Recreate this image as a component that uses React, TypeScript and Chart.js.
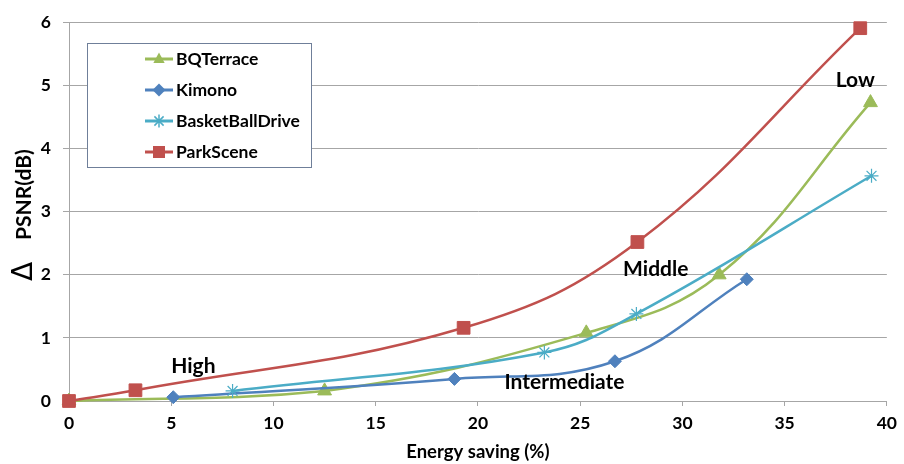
import React, { useEffect, useRef } from 'react';
import { Chart, registerables } from 'chart.js';

Chart.register(...registerables);

// ---- data ----
const seriesNames = ['BQTerrace', 'Kimono', 'BasketBallDrive', 'ParkScene'];
const seriesColors = ['#9BBB59', '#4F81BD', '#4BACC6', '#C0504D'];
const seriesStyles = ['triangle', 'rectRot', 'star', 'rect'];

const bqX = [0, 12.5, 25.3, 31.8, 39.2];
const bqY = [0, 0.16, 1.08, 2.0, 4.73];
const kimonoX = [5.1, 18.85, 26.7, 33.15];
const kimonoY = [0.06, 0.35, 0.63, 1.93];
const bbdX = [8.0, 23.25, 27.75, 39.25];
const bbdY = [0.16, 0.77, 1.38, 3.57];
const parkX = [0, 3.25, 19.3, 27.8, 38.7];
const parkY = [0, 0.17, 1.16, 2.52, 5.91];

const xTitle = 'Energy saving (%)';
const yTitleDelta = 'Δ';
const yTitleText = 'PSNR(dB)';

const annText = ['High', 'Intermediate', 'Middle', 'Low'];
const annX = [5.0, 21.3, 27.1, 37.5];
const annY = [0.45, 0.19, 1.98, 4.97];

const seriesX = [bqX, kimonoX, bbdX, parkX];
const seriesY = [bqY, kimonoY, bbdY, parkY];

function drawMarker(ctx: CanvasRenderingContext2D, style: string, x: number, y: number, r: number, color: string) {
  ctx.save();
  ctx.fillStyle = color;
  ctx.strokeStyle = color;
  ctx.lineWidth = 1.5;
  ctx.beginPath();
  if (style === 'triangle') {
    ctx.moveTo(x, y - r);
    ctx.lineTo(x + r * 0.87, y + r * 0.6);
    ctx.lineTo(x - r * 0.87, y + r * 0.6);
    ctx.closePath();
    ctx.fill();
  } else if (style === 'rectRot') {
    ctx.moveTo(x, y - r);
    ctx.lineTo(x + r, y);
    ctx.lineTo(x, y + r);
    ctx.lineTo(x - r, y);
    ctx.closePath();
    ctx.fill();
  } else if (style === 'rect') {
    ctx.rect(x - r * 0.75, y - r * 0.75, r * 1.5, r * 1.5);
    ctx.fill();
  } else {
    for (let k = 0; k < 4; k++) {
      const a = (k * Math.PI) / 4;
      ctx.moveTo(x - Math.cos(a) * r, y - Math.sin(a) * r);
      ctx.lineTo(x + Math.cos(a) * r, y + Math.sin(a) * r);
    }
    ctx.stroke();
  }
  ctx.restore();
}

const decor = {
  id: 'decor',
  afterDraw(chart: any) {
    const ctx: CanvasRenderingContext2D = chart.ctx;
    const xs = chart.scales.x;
    const ys = chart.scales.y;
    ctx.save();
    // annotations
    ctx.font = 'bold 21px Lato';
    ctx.fillStyle = '#000';
    ctx.textAlign = 'left';
    ctx.textBaseline = 'alphabetic';
    annText.forEach((t, i) => {
      ctx.fillText(t, xs.getPixelForValue(annX[i]), ys.getPixelForValue(annY[i]));
    });

    // legend box
    const bx = 87, by = 43, bw = 224, bh = 124;
    ctx.fillStyle = '#fff';
    ctx.fillRect(bx, by, bw, bh);
    ctx.strokeStyle = '#6f7f99';
    ctx.lineWidth = 1;
    ctx.strokeRect(bx + 0.5, by + 0.5, bw, bh);
    seriesNames.forEach((name, i) => {
      const cy = 59 + i * 31;
      ctx.strokeStyle = seriesColors[i];
      ctx.lineWidth = 3;
      ctx.beginPath();
      ctx.moveTo(145, cy);
      ctx.lineTo(173, cy);
      ctx.stroke();
      drawMarker(ctx, seriesStyles[i], 159, cy, seriesStyles[i] === 'rect' ? 8 : 6.5, seriesColors[i]);
      ctx.fillStyle = '#000';
      ctx.font = 'bold 17.5px Lato';
      ctx.textBaseline = 'middle';
      ctx.fillText(name, 176, cy);
    });

    // y title
    ctx.save();
    ctx.translate(24, 209);
    ctx.rotate(-Math.PI / 2);
    ctx.fillStyle = '#000';
    ctx.textBaseline = 'middle';
    ctx.textAlign = 'left';
    ctx.font = '28px "DejaVu Sans"';
    ctx.fillText(yTitleDelta, -72, 1);
    ctx.font = 'bold 21px Lato';
    ctx.fillText(yTitleText, -31, 0);
    ctx.restore();

    ctx.restore();
  },
};

export default function App() {
  const ref = useRef<HTMLCanvasElement>(null);
  useEffect(() => {
    document.body.style.margin = '0';
    const canvas = ref.current!;
    const datasets = seriesNames.map((name, i) => ({
      label: name,
      data: seriesX[i].map((x, j) => ({ x, y: seriesY[i][j] })),
      borderColor: seriesColors[i],
      backgroundColor: seriesColors[i],
      borderWidth: 2.5,
      pointStyle: seriesStyles[i],
      pointRadius: [8, 6.5, 7, 9][i],
      pointBorderWidth: seriesStyles[i] === 'star' ? 1.2 : 1,
      tension: 0.4,
      fill: false,
      clip: false,
      order: [3, 2, 1, 0][i],
    }));
    const tickFont = { family: 'Lato', weight: 'bold' as const, size: 17.5 };
    const titleFont = { family: 'Lato', weight: 'bold' as const, size: 18.5 };
    const chart = new Chart(canvas, {
      type: 'line',
      data: { datasets },
      options: {
        animation: false,
        responsive: false,
        layout: { padding: { top: 17, right: 11, left: 0, bottom: 0 } },
        plugins: { legend: { display: false }, tooltip: { enabled: false } },
        scales: {
          x: {
            type: 'linear',
            min: 0,
            max: 40,
            ticks: { stepSize: 5, color: '#000', font: tickFont, padding: 7 },
            grid: { drawOnChartArea: false, drawTicks: true, tickLength: 5, color: '#a6a6a6' },
            border: { color: '#a6a6a6' },
            title: { display: true, text: xTitle, color: '#000', font: titleFont, padding: { top: 4, bottom: 1 } },
            afterFit: (s: any) => { s.height = 63; },
          },
          y: {
            type: 'linear',
            min: 0,
            max: 6,
            ticks: { stepSize: 1, color: '#000', font: tickFont, padding: 12 },
            grid: { color: '#a6a6a6', tickLength: 6 },
            border: { color: '#a6a6a6' },
            afterFit: (s: any) => { s.width = 69; },
          },
        },
      },
      plugins: [decor],
    } as any);
    return () => chart.destroy();
  }, []);
  return <canvas ref={ref} width={904} height={464} style={{ display: 'block' }} />;
}
